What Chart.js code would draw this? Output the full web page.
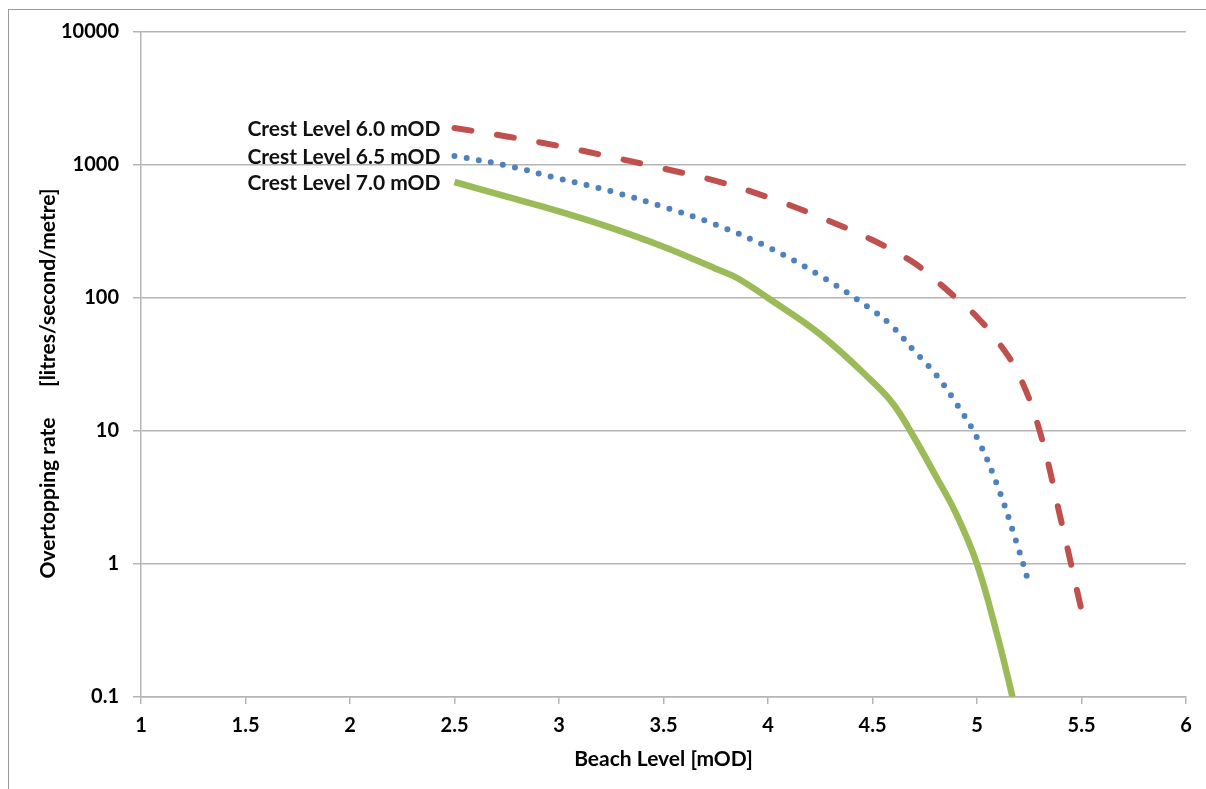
<!DOCTYPE html>
<html>
<head>
<meta charset="utf-8">
<script src="https://cdn.jsdelivr.net/npm/chart.js@4.4.1/dist/chart.umd.min.js"></script>
<style>
  html, body { margin: 0; padding: 0; background: #fff; overflow: hidden; }
  #wrap { position: relative; width: 1206px; height: 789px; }
  #frame { position: absolute; left: 8px; top: 9px; width: 1400px; height: 1000px;
           border-left: 1px solid #9a9a9a; border-top: 1px solid #9a9a9a; }
  canvas { position: absolute; left: 0; top: 0; }
</style>
</head>
<body>
<div id="wrap">
  <div id="frame"></div>
  <canvas id="c" width="1206" height="789"></canvas>
</div>
<script>
// ---- data ----
const seriesNames = ['Crest Level 6.0 mOD', 'Crest Level 6.5 mOD', 'Crest Level 7.0 mOD'];

const crest60X = [2.5, 2.75, 3, 3.25, 3.5, 3.75, 4, 4.25, 4.5, 4.6, 4.7, 4.8, 4.9, 5, 5.1, 5.2, 5.3, 5.4, 5.5];
const crest60Y = [1900, 1640, 1390, 1150, 940, 760, 572, 405, 273, 225, 183, 137, 100, 72, 47, 26.5, 10, 2.2, 0.45];

const crest65X = [2.5, 2.75, 3, 3.25, 3.5, 3.75, 4, 4.25, 4.5, 4.6, 4.7, 4.8, 4.9, 5, 5.1, 5.2, 5.25];
const crest65Y = [1170, 990, 790, 634, 484, 356, 241, 147, 81, 60, 40, 27, 16.2, 8.9, 3.8, 1.28, 0.7];

const crest70X = [2.5, 2.75, 3, 3.25, 3.5, 3.75, 3.85, 4, 4.25, 4.5, 4.6, 4.7, 4.8, 4.9, 5, 5.1, 5.17];
const crest70Y = [745, 578, 448, 337, 243, 166, 142, 100, 53.3, 23.5, 15.9, 8.9, 4.67, 2.39, 1.0, 0.28, 0.1];

const yTicks = [0.1, 1, 10, 100, 1000, 10000];
const yTickLabels = ['0.1', '1', '10', '100', '1000', '10000'];
const xTicks = [1, 1.5, 2, 2.5, 3, 3.5, 4, 4.5, 5, 5.5, 6];

const xTitle = 'Beach Level [mOD]';
const yTitle = 'Overtopping rate      [litres/second/metre]';

// ---- build ----
function pts(xs, ys) { return xs.map((x, i) => ({ x: x, y: ys[i] })); }

const FONT = 'Lato, "Open Sans", sans-serif';
const GRID = '#b5b5b5';

const labelPlugin = {
  id: 'seriesLabels',
  afterDatasetsDraw(chart) {
    const ctx = chart.ctx;
    ctx.save();
    ctx.font = 'bold 21px ' + FONT;
    ctx.fillStyle = '#111';
    ctx.textAlign = 'right';
    ctx.textBaseline = 'middle';
    chart.data.datasets.forEach((ds, i) => {
      const el = chart.getDatasetMeta(i).data[0];
      ctx.fillText(ds.label, el.x - 14, el.y + 1);
    });
    // y-axis title
    const area = chart.chartArea;
    ctx.translate(48, (area.top + area.bottom) / 2 + 19);
    ctx.rotate(-Math.PI / 2);
    ctx.textAlign = 'center';
    ctx.fillStyle = '#000';
    ctx.fillText(yTitle, 0, 0);
    ctx.restore();
  }
};

new Chart(document.getElementById('c'), {
  type: 'line',
  data: {
    datasets: [
      { label: seriesNames[0], data: pts(crest60X, crest60Y), borderColor: '#C0504D',
        borderWidth: 6, borderDash: [17, 26], borderCapStyle: 'round', pointRadius: 0,
        tension: 0.4, fill: false },
      { label: seriesNames[1], data: pts(crest65X, crest65Y), borderColor: '#4F81BD',
        borderWidth: 6, borderDash: [0, 12.3], borderCapStyle: 'round', pointRadius: 0,
        tension: 0.4, fill: false },
      { label: seriesNames[2], data: pts(crest70X, crest70Y), borderColor: '#9BBB59',
        borderWidth: 6.5, borderCapStyle: 'butt', pointRadius: 0,
        tension: 0.4, fill: false }
    ]
  },
  options: {
    responsive: false,
    animation: false,
    devicePixelRatio: 1,
    layout: { padding: { left: 0, top: 32, right: 20, bottom: 0 } },
    plugins: { legend: { display: false }, tooltip: { enabled: false } },
    scales: {
      x: {
        type: 'linear', min: 1, max: 6,
        afterBuildTicks: (s) => { s.ticks = xTicks.map(v => ({ value: v })); },
        afterFit: (s) => { s.height = 92; },
        grid: { drawOnChartArea: false, drawTicks: true, tickLength: 7, color: GRID, lineWidth: 1.5 },
        border: { display: true, color: GRID, width: 1.5 },
        ticks: { color: '#000', padding: 10, font: { family: FONT, size: 20, weight: 'bold' },
                 maxRotation: 0, autoSkip: false, callback: (v) => String(v) },
        title: { display: true, text: xTitle, color: '#000', padding: { top: 0, bottom: 17 },
                 font: { family: FONT, size: 21, weight: 'bold' } }
      },
      y: {
        type: 'logarithmic', min: 0.1, max: 10000,
        afterBuildTicks: (s) => { s.ticks = yTicks.map(v => ({ value: v })); },
        afterFit: (s) => { s.width = 141; },
        grid: { drawOnChartArea: true, drawTicks: true, tickLength: 8, color: GRID, lineWidth: 1.5 },
        border: { display: true, color: GRID, width: 1.5 },
        ticks: { color: '#000', padding: 14, font: { family: FONT, size: 20, weight: 'bold' },
                 autoSkip: false,
                 callback: (v) => { const i = yTicks.indexOf(v); return i >= 0 ? yTickLabels[i] : ''; } },
        title: { display: false }
      }
    }
  },
  plugins: [labelPlugin]
});
</script>
</body>
</html>
